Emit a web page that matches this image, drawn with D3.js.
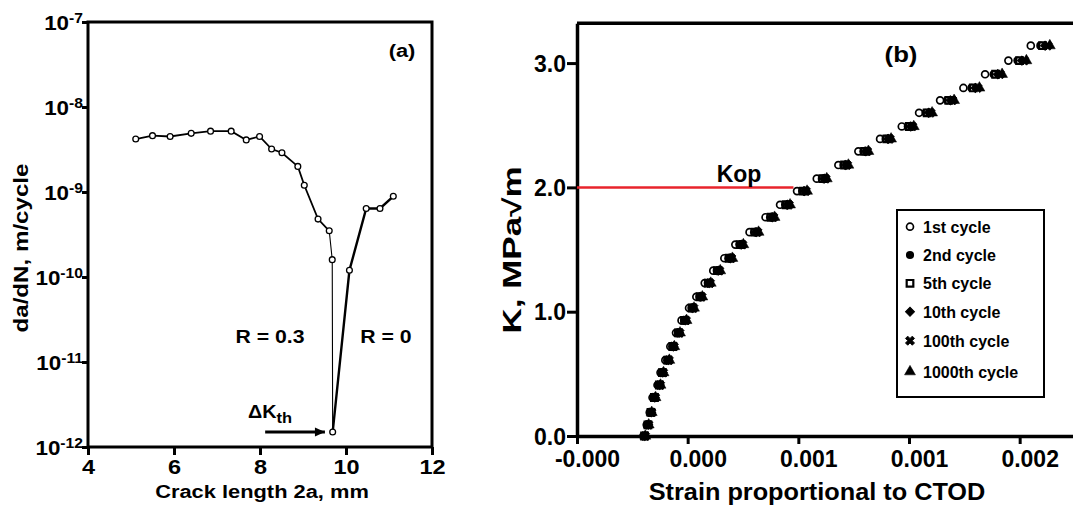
<!DOCTYPE html>
<html>
<head>
<meta charset="utf-8">
<script src="https://cdn.jsdelivr.net/npm/d3@7"></script>
<style>
  html, body { margin: 0; padding: 0; background: #fff; }
  svg { display: block; }
  text { font-family: Arial, "Liberation Sans", sans-serif; font-weight: bold; fill: #000; }
</style>
</head>
<body>
<svg id="chart" width="1073" height="505"></svg>
<script>
// ---------- Panel (a): crack growth rate vs crack length ----------
const crackLengthR03 = [5.11, 5.50, 5.91, 6.40, 6.85, 7.33, 7.68, 7.99, 8.27, 8.51, 8.88, 9.03, 9.35, 9.61, 9.68, 9.69];
const growthRateR03  = [4.2e-9, 4.6e-9, 4.5e-9, 4.9e-9, 5.2e-9, 5.2e-9, 4.1e-9, 4.5e-9, 3.2e-9, 2.9e-9, 2.0e-9, 1.2e-9, 4.8e-10, 3.5e-10, 1.6e-10, 1.5e-12];
const crackLengthR0  = [9.69, 10.08, 10.47, 10.79, 11.10];
const growthRateR0   = [1.5e-12, 1.2e-10, 6.4e-10, 6.4e-10, 8.9e-10];
const crackTicks = [4, 6, 8, 10, 12];
const rateTickExponents = [-12, -11, -10, -9, -8, -7];
const thresholdArrowX = [8.12, 9.51];
const thresholdRate = 1.5e-12;

// ---------- Panel (b): K vs strain (proportional to CTOD), strain in 1e-6 ----------
const stressIntensity = [0.00, 0.09, 0.19, 0.31, 0.41, 0.51, 0.61, 0.72, 0.83, 0.93, 1.03, 1.12, 1.23, 1.33, 1.43, 1.54, 1.64, 1.76, 1.86, 1.97, 2.07, 2.18, 2.29, 2.39, 2.49, 2.60, 2.70, 2.80, 2.91, 3.02, 3.14];
const strainCycle1    = [-100.3, -85.0, -71.4, -58.7, -36.2, -22.6, -0.9, 21.7, 47.4, 72.3, 106.2, 139.2, 177.1, 215.6, 265.7, 315.4, 379.6, 451.9, 517.4, 594.2, 683.3, 780.9, 871.3, 969.3, 1067.4, 1145.6, 1240.5, 1345.8, 1443.8, 1549.1, 1650.3];
const strainCycle2    = [-95.8, -80.5, -66.9, -51.9, -29.4, -15.8, 8.1, 30.7, 56.4, 83.6, 117.5, 152.8, 190.7, 231.4, 283.8, 333.5, 399.9, 472.2, 540.0, 616.8, 705.9, 803.5, 893.9, 994.2, 1094.5, 1175.0, 1272.1, 1382.0, 1482.2, 1589.8, 1693.2];
const strainCycle5    = [-94.7, -79.4, -65.8, -50.3, -27.8, -14.2, 10.3, 32.9, 58.6, 86.3, 120.2, 156.0, 193.9, 235.2, 288.1, 337.8, 404.8, 477.1, 545.4, 622.2, 711.3, 808.9, 899.3, 1000.1, 1101.0, 1182.0, 1279.7, 1390.6, 1491.4, 1599.5, 1703.5];
const strainCycle10   = [-93.5, -78.2, -64.6, -48.5, -26.0, -12.4, 12.7, 35.3, 61.0, 89.2, 123.1, 159.5, 197.4, 239.3, 292.8, 342.5, 410.1, 482.4, 551.3, 628.1, 717.2, 814.8, 905.2, 1006.6, 1108.1, 1189.7, 1287.9, 1400.0, 1501.4, 1610.1, 1714.7];
const strainCycle100  = [-92.3, -77.0, -63.4, -46.8, -24.3, -10.7, 15.0, 37.6, 63.3, 92.2, 126.1, 163.1, 201.0, 243.4, 297.5, 347.2, 415.4, 487.7, 557.2, 634.0, 723.1, 820.7, 911.1, 1013.0, 1115.1, 1197.3, 1296.2, 1409.4, 1511.4, 1620.7, 1725.9];
const strainCycle1000 = [-91.3, -76.0, -62.4, -45.1, -22.6, -9.0, 17.2, 39.8, 65.5, 94.9, 128.8, 166.3, 204.2, 247.2, 301.9, 351.6, 420.3, 492.6, 562.6, 639.4, 728.5, 826.1, 916.5, 1019.0, 1121.6, 1204.3, 1303.8, 1418.1, 1520.6, 1630.4, 1736.2];
const cycleNames = ["1st cycle", "2nd cycle", "5th cycle", "10th cycle", "100th cycle", "1000th cycle"];
const strainTicks = [-0.0004, 0.0001, 0.0006, 0.0011, 0.0016];
const strainTickLabels = ["-0.000", "0.000", "0.001", "0.001", "0.002"];
const kTicks = [0, 1, 2, 3];
const kOpening = 2.0;
const kOpeningStrainEnd = 578;   // 1e-6

const svg = d3.select("#chart");
svg.append("rect").attr("width", 1073).attr("height", 505).attr("fill", "#fff");

// Text helper: bold label with an optional horizontal stretch and rotation
function label(g, str, x, y, size, opts = {}) {
  const { anchor = "middle", sx = 1, rotate = 0 } = opts;
  return g.append("text")
    .attr("transform", `translate(${x},${y}) rotate(${rotate}) scale(${sx},1)`)
    .attr("text-anchor", anchor)
    .style("font-size", size + "px")
    .text(str);
}

// =================== Panel (a) ===================
const gA = svg.append("g");
const xA = d3.scaleLinear().domain([4, 12]).range([88, 432]);
const yA = d3.scaleLog().domain([1e-12, 1e-7]).range([447, 22]);

// x axis
const axA = gA.append("g").attr("transform", `translate(0,${yA.range()[0]})`)
  .call(d3.axisBottom(xA).tickValues(crackTicks).tickSize(8).tickSizeOuter(0).tickFormat(""));
axA.select(".domain").remove();
axA.selectAll(".tick line").attr("stroke", "#000").attr("stroke-width", 3);
axA.selectAll(".tick").each(function (d) {
  label(d3.select(this), String(d), 0, 27, 21, { sx: 1.12 });
});

// y axis with power-of-ten labels
const ayA = gA.append("g").attr("transform", `translate(${xA.range()[0]},0)`)
  .call(d3.axisLeft(yA).tickValues(rateTickExponents.map(e => Math.pow(10, e))).tickSize(6).tickSizeOuter(0).tickFormat(""));
ayA.select(".domain").remove();
ayA.selectAll(".tick line").attr("stroke", "#000").attr("stroke-width", 3);
ayA.selectAll(".tick").each(function (d) {
  const e = Math.round(Math.log10(d));
  const t = d3.select(this).append("text")
    .attr("transform", "translate(-5,7) scale(1.12,1)")
    .attr("text-anchor", "end")
    .style("font-size", "20px");
  t.append("tspan").text("10");
  t.append("tspan").attr("dy", -7).style("font-size", "14px").text(String(e));
});

// frame
gA.append("rect")
  .attr("x", xA.range()[0]).attr("y", yA.range()[1])
  .attr("width", xA.range()[1] - xA.range()[0]).attr("height", yA.range()[0] - yA.range()[1])
  .attr("fill", "none").attr("stroke", "#000").attr("stroke-width", 3);

// data lines
const lineA = d3.line().x(d => xA(d[0])).y(d => yA(d[1]));
const ptsR03 = crackLengthR03.map((x, i) => [x, growthRateR03[i]]);
const ptsR0 = crackLengthR0.map((x, i) => [x, growthRateR0[i]]);
gA.append("path").datum(ptsR03.slice(0, 14)).attr("d", lineA)
  .attr("fill", "none").attr("stroke", "#000").attr("stroke-width", 1.8);
gA.append("path").datum(ptsR03.slice(13)).attr("d", lineA)
  .attr("fill", "none").attr("stroke", "#000").attr("stroke-width", 1.1);
gA.append("path").datum(ptsR0).attr("d", lineA)
  .attr("fill", "none").attr("stroke", "#000").attr("stroke-width", 2.4);
gA.selectAll("circle.pt").data(ptsR03.concat(ptsR0.slice(1))).join("circle")
  .attr("class", "pt")
  .attr("cx", d => xA(d[0])).attr("cy", d => yA(d[1])).attr("r", 2.9)
  .attr("fill", "#fff").attr("stroke", "#000").attr("stroke-width", 1.3);

// threshold arrow
const defs = svg.append("defs");
defs.append("marker").attr("id", "arrowHead")
  .attr("viewBox", "0 -5 10 10").attr("refX", 10).attr("refY", 0)
  .attr("markerUnits", "userSpaceOnUse").attr("markerWidth", 12).attr("markerHeight", 10)
  .attr("orient", "auto")
  .append("path").attr("d", "M0,-4.5L10,0L0,4.5Z").attr("fill", "#000");
gA.append("line")
  .attr("x1", xA(thresholdArrowX[0])).attr("x2", xA(thresholdArrowX[1]))
  .attr("y1", yA(thresholdRate)).attr("y2", yA(thresholdRate))
  .attr("stroke", "#000").attr("stroke-width", 3).attr("marker-end", "url(#arrowHead)");

// annotations
label(gA, "(a)", 402, 57, 19, { sx: 1.15 });
label(gA, "R = 0.3", 270, 343, 18, { sx: 1.18 });
label(gA, "R = 0", 386, 343, 18, { sx: 1.18 });
const dk = gA.append("text").attr("transform", "translate(248,418) scale(1.1,1)").style("font-size", "18px");
dk.append("tspan").text("ΔK");
dk.append("tspan").attr("dy", 5).style("font-size", "15px").text("th");
label(gA, "Crack length 2a, mm", 262, 498, 19, { sx: 1.15 });
label(gA, "da/dN, m/cycle", 28, 248, 21, { sx: 1.15, rotate: -90 });

// =================== Panel (b) ===================
const gB = svg.append("g");
const xB = d3.scaleLinear().domain([-0.0004, 0.00185]).range([577, 1075]);
const yB = d3.scaleLinear().domain([0, 3.32]).range([436, 23.3]);

const axB = gB.append("g").attr("transform", `translate(0,${yB(0)})`)
  .call(d3.axisBottom(xB).tickValues(strainTicks).tickSize(8).tickSizeOuter(0).tickFormat(""));
axB.select(".domain").attr("stroke", "#000").attr("stroke-width", 3.5);
axB.selectAll(".tick line").attr("stroke", "#000").attr("stroke-width", 3);
axB.selectAll(".tick").each(function (d, i) {
  label(d3.select(this), strainTickLabels[i], 10, 31, 23);
});

const ayB = gB.append("g").attr("transform", `translate(${xB.range()[0]},0)`)
  .call(d3.axisLeft(yB).tickValues(kTicks).tickSize(10).tickSizeOuter(0).tickFormat(""));
ayB.select(".domain").attr("stroke", "#000").attr("stroke-width", 3.5);
ayB.selectAll(".tick line").attr("stroke", "#000").attr("stroke-width", 3);
ayB.selectAll(".tick").each(function (d) {
  label(d3.select(this), d3.format(".1f")(d), -11, 8, 23, { anchor: "end" });
});

// top border
gB.append("line").attr("x1", xB.range()[0]).attr("x2", xB.range()[1])
  .attr("y1", yB.range()[1]).attr("y2", yB.range()[1])
  .attr("stroke", "#000").attr("stroke-width", 3.5);

// K opening line
gB.append("line")
  .attr("x1", xB(xB.domain()[0])).attr("x2", xB(kOpeningStrainEnd * 1e-6))
  .attr("y1", yB(kOpening)).attr("y2", yB(kOpening))
  .attr("stroke", "#e8242c").attr("stroke-width", 2.5);
label(gB, "Kop", 739, 182, 23);

// cycle series markers
const cycleStrains = [strainCycle1, strainCycle2, strainCycle5, strainCycle10, strainCycle100, strainCycle1000];
const markerStyles = [
  { type: d3.symbolCircle, size: 38, fill: "#fff", stroke: 1.7, rot: 0 },
  { type: d3.symbolCircle, size: 52, fill: "#000", stroke: 0, rot: 0 },
  { type: d3.symbolSquare, size: 44, fill: "#fff", stroke: 2.2, rot: 0 },
  { type: d3.symbolSquare, size: 40, fill: "#000", stroke: 1, rot: 45 },
  { type: d3.symbolCross, size: 52, fill: "#000", stroke: 0.8, rot: 45 },
  { type: d3.symbolTriangle, size: 52, fill: "#000", stroke: 0.5, rot: 0 }
];
function drawMarker(g, style, x, y) {
  g.append("path")
    .attr("d", d3.symbol().type(style.type).size(style.size)())
    .attr("transform", `translate(${x},${y}) rotate(${style.rot})`)
    .attr("fill", style.fill)
    .attr("stroke", "#000")
    .attr("stroke-width", style.stroke);
}
cycleStrains.forEach((series, s) => {
  const g = gB.append("g");
  series.forEach((v, i) => drawMarker(g, markerStyles[s], xB(v * 1e-6), yB(stressIntensity[i])));
});

label(gB, "(b)", 901, 62, 23, { sx: 1.12 });

// legend
const lg = gB.append("g");
lg.append("rect").attr("x", 897).attr("y", 210).attr("width", 147).attr("height", 187)
  .attr("fill", "#fff").attr("stroke", "#000").attr("stroke-width", 2);
const rowY = [226.7, 255, 283.3, 311.7, 340.7, 371.7];
cycleNames.forEach((name, i) => {
  drawMarker(lg, markerStyles[i], 910, rowY[i]);
  label(lg, name, 923, rowY[i] + 6, 16, { anchor: "start" });
});

label(gB, "Strain proportional to CTOD", 817, 500, 23, { sx: 1.1 });
label(gB, "K, MPa\u221Am", 521, 250, 25, { sx: 1.4, rotate: -90 });
</script>
</body>
</html>
